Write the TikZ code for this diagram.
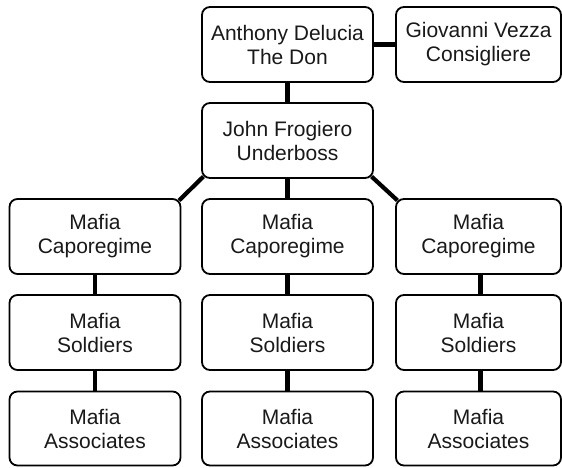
\documentclass[tikz,border=0pt]{standalone}
\usepackage{fontspec}
\setmainfont{Liberation Sans}
\begin{document}
\begin{tikzpicture}[x=1pt,y=-1pt,
  rolebox/.style={draw=black,line width=1.8pt,rounded corners=8pt,fill=white,
    minimum width=171pt,minimum height=75pt,align=center,inner sep=0pt,
    font=\fontsize{21}{24}\selectfont,text=black!90},
  link/.style={line width=4.2pt,line cap=butt}]
\useasboundingbox (0,0) rectangle (562,467);

% offset of the 45-degree point of a rounded corner (r = 8pt)
\def\co{2.34}

% top tier
\node[rolebox] (don) at (287.5,44.5) {Anthony Delucia\\The Don};
\node[rolebox,minimum width=165pt] (cons) at (478.5,44.5) {Giovanni Vezza\\Consigliere};
\node[rolebox] (ub) at (287.5,140.5) {John Frogiero\\Underboss};

% three crews
\node[rolebox] (cap1) at (95,236.5) {Mafia\\Caporegime};
\node[rolebox] (cap2) at (287.5,236.5) {Mafia\\Caporegime};
\node[rolebox,minimum width=165pt] (cap3) at (478.5,236.5) {Mafia\\Caporegime};

\node[rolebox] (sol1) at (95,332.5) {Mafia\\Soldiers};
\node[rolebox] (sol2) at (287.5,332.5) {Mafia\\Soldiers};
\node[rolebox,minimum width=165pt] (sol3) at (478.5,332.5) {Mafia\\Soldiers};

\node[rolebox,minimum height=74pt] (as1) at (95,428.5) {Mafia\\Associates};
\node[rolebox,minimum height=74pt] (as2) at (287.5,428.5) {Mafia\\Associates};
\node[rolebox,minimum width=165pt,minimum height=74pt] (as3) at (478.5,428.5) {Mafia\\Associates};

% links
\draw[link] (don.east) -- (cons.west);
\draw[link] (don.south) -- (ub.north);
\draw[link] (ub.south) -- (cap2.north);
\draw[link] ([shift={(\co,-\co)}]ub.south west) -- ([shift={(-\co,\co)}]cap1.north east);
\draw[link] ([shift={(-\co,-\co)}]ub.south east) -- ([shift={(\co,\co)}]cap3.north west);

\draw[link] (cap1.south) -- (sol1.north);
\draw[link] (sol1.south) -- (as1.north);
\draw[link] (cap2.south) -- (sol2.north);
\draw[link] (sol2.south) -- (as2.north);
\draw[link] ([xshift=2pt]cap3.south) -- ([xshift=2pt]sol3.north);
\draw[link] ([xshift=2pt]sol3.south) -- ([xshift=2pt]as3.north);
\end{tikzpicture}
\end{document}
